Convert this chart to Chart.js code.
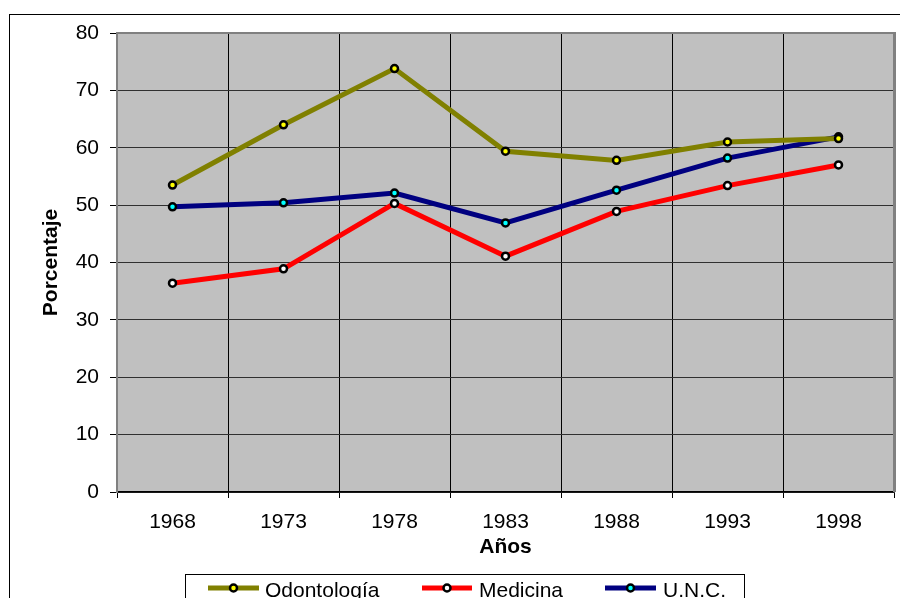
<!DOCTYPE html>
<html>
<head>
<meta charset="utf-8">
<script src="https://cdn.jsdelivr.net/npm/chart.js@4/dist/chart.umd.min.js"></script>
<style>
html,body{margin:0;padding:0;background:#fff;}
#wrap{width:900px;height:598px;position:relative;}
</style>
</head>
<body>
<div id="wrap"><canvas id="c" width="900" height="598"></canvas></div>
<script>
const years = ['1968','1973','1978','1983','1988','1993','1998'];
const odontologia = [53.5, 64.0, 73.8, 59.4, 57.8, 61.0, 61.6];
const medicina = [36.4, 38.9, 50.3, 41.1, 48.9, 53.4, 57.0];
const unc = [49.7, 50.4, 52.1, 46.9, 52.6, 58.2, 61.9];
const seriesNames = ['Odontología', 'Medicina', 'U.N.C.'];
const yTicks = [0, 10, 20, 30, 40, 50, 60, 70, 80];

const FONT = '"Liberation Sans", Arial, sans-serif';

const framePlugin = {
  id: 'frame',
  beforeDraw(chart) {
    const {ctx, chartArea: a} = chart;
    ctx.save();
    ctx.fillStyle = '#fff';
    ctx.fillRect(0, 0, chart.width, chart.height);
    ctx.strokeStyle = '#000';
    ctx.lineWidth = 1;
    ctx.strokeRect(9.5, 14.5, 920, 620);
    ctx.fillStyle = '#c0c0c0';
    ctx.fillRect(a.left, a.top, a.right - a.left, a.bottom - a.top);
    ctx.restore();
  },
  beforeDatasetsDraw(chart) {
    const {ctx, chartArea: a} = chart;
    ctx.save();
    ctx.strokeStyle = '#808080';
    ctx.lineWidth = 2;
    ctx.beginPath();
    ctx.moveTo(a.left, a.top);
    ctx.lineTo(a.right, a.top);
    ctx.stroke();
    ctx.lineWidth = 3;
    ctx.beginPath();
    ctx.moveTo(a.right + 0.5, a.top - 1);
    ctx.lineTo(a.right + 0.5, a.bottom);
    ctx.stroke();
    ctx.restore();
  },
  afterDraw(chart) {
    const {ctx} = chart;
    ctx.save();
    ctx.strokeStyle = '#000';
    ctx.lineWidth = 1;
    ctx.fillStyle = '#fff';
    ctx.fillRect(185.5, 574.5, 559, 40);
    ctx.strokeRect(185.5, 574.5, 559, 40);
    const items = [
      {x1: 208, x2: 259, tx: 265},
      {x1: 422, x2: 472, tx: 479},
      {x1: 605, x2: 656, tx: 663}
    ];
    const ly = 588;
    chart.data.datasets.forEach((ds, i) => {
      const it = items[i];
      ctx.strokeStyle = ds.borderColor;
      ctx.lineWidth = 5;
      ctx.beginPath();
      ctx.moveTo(it.x1, ly);
      ctx.lineTo(it.x2, ly);
      ctx.stroke();
      ctx.beginPath();
      ctx.arc((it.x1 + it.x2) / 2, ly, 3.5, 0, Math.PI * 2);
      ctx.fillStyle = ds.pointBackgroundColor;
      ctx.fill();
      ctx.lineWidth = 2.5;
      ctx.strokeStyle = '#000';
      ctx.stroke();
      ctx.fillStyle = '#000';
      ctx.font = '21px ' + FONT;
      ctx.textBaseline = 'alphabetic';
      ctx.textAlign = 'left';
      ctx.fillText(ds.label, it.tx, 597);
    });
    ctx.restore();
  }
};

const mk = (label, data, color, pt) => ({
  label, data,
  borderColor: color,
  backgroundColor: color,
  borderWidth: 5,
  tension: 0,
  fill: false,
  pointStyle: 'circle',
  pointRadius: 3.5,
  pointBorderWidth: 2.5,
  pointBorderColor: '#000',
  pointBackgroundColor: pt,
  pointHoverRadius: 3.5
});

new Chart(document.getElementById('c'), {
  type: 'line',
  data: {
    labels: years,
    datasets: [
      mk(seriesNames[0], odontologia, '#808000', '#ffff00'),
      mk(seriesNames[1], medicina, '#ff0000', '#ffffff'),
      mk(seriesNames[2], unc, '#000080', '#00ffff')
    ]
  },
  options: {
    responsive: false,
    animation: false,
    devicePixelRatio: 1,
    layout: {padding: {left: 0, top: 33, right: 5, bottom: 0}},
    plugins: {legend: {display: false}, tooltip: {enabled: false}},
    scales: {
      x: {
        type: 'category',
        offset: true,
        grid: {offset: true, color: '#000', lineWidth: 1, tickLength: 6, drawOnChartArea: true, tickColor: '#000'},
        border: {color: '#000', width: 1.5},
        ticks: {color: '#000', font: {family: FONT, size: 21}, padding: 12, maxRotation: 0, autoSkip: false},
        title: {display: true, text: 'Años', color: '#000', font: {family: FONT, size: 21, weight: 'bold'}, padding: {top: 0, bottom: 38}},
        afterFit(s) { s.height = 106; }
      },
      y: {
        min: 0, max: 80,
        afterBuildTicks(s) { s.ticks = yTicks.map(v => ({value: v})); },
        grid: {color: '#303030', lineWidth: 1, tickLength: 7, tickColor: '#000'},
        border: {color: '#808080', width: 2},
        ticks: {color: '#000', font: {family: FONT, size: 21}, padding: 11},
        title: {display: true, text: 'Porcentaje', color: '#000', font: {family: FONT, size: 21, weight: 'bold'}, padding: {top: 39, bottom: 0}},
        afterFit(s) { s.width = 117; }
      }
    }
  },
  plugins: [framePlugin]
});
</script>
</body>
</html>
